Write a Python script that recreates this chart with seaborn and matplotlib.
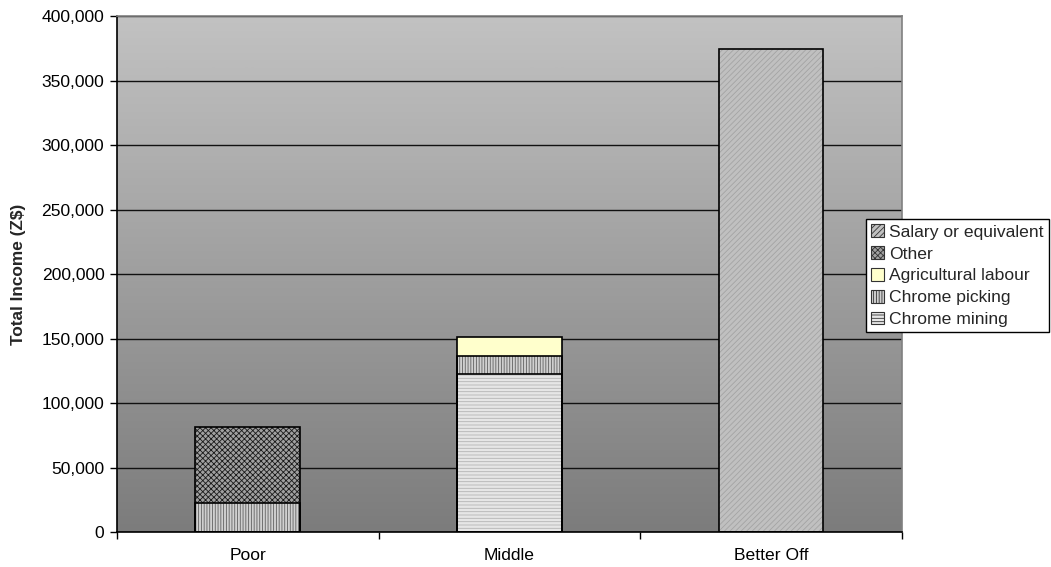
import numpy as np
import pandas as pd
import matplotlib
matplotlib.use("Agg")
import matplotlib.pyplot as plt
import seaborn as sns
from matplotlib.patches import Patch

categories = ["Poor", "Middle", "Better Off"]
chrome_mining = [0, 122600, 0]
chrome_picking = [22500, 14200, 0]
agricultural_labour = [0, 14500, 0]
other = [59000, 0, 0]
salary = [0, 0, 374600]

series_names = ["Chrome mining", "Chrome picking", "Agricultural labour", "Other", "Salary or equivalent"]
series_values = [chrome_mining, chrome_picking, agricultural_labour, other, salary]
yticks = [0, 50000, 100000, 150000, 200000, 250000, 300000, 350000, 400000]

styles = {
    "Chrome mining": dict(face="#e6e6e6", hatch="-----", hc="#b4b4b4"),
    "Chrome picking": dict(face="#d0d0d0", hatch="||||||", hc="#606060"),
    "Agricultural labour": dict(face="#ffffcc", hatch="", hc="#ffffcc"),
    "Other": dict(face="#a0a0a0", hatch="xxxxxx", hc="#1a1a1a"),
    "Salary or equivalent": dict(face="#c0c0c0", hatch="//////", hc="#a4a4a4"),
}

sns.set_theme(style="white")
plt.rcParams["font.family"] = ["Liberation Sans", "DejaVu Sans"]
plt.rcParams["hatch.linewidth"] = 0.6

fig = plt.figure(figsize=(10.51, 5.67), dpi=100)
ax = fig.add_axes([0.1113, 0.0612, 0.7467, 0.9106])

# gradient background
grad = np.linspace(0, 1, 256).reshape(-1, 1)
ax.imshow(grad, extent=[0, 1, 0, 1], transform=ax.transAxes, aspect="auto",
          cmap=matplotlib.colors.LinearSegmentedColormap.from_list("g", ["#c2c2c2", "#7c7c7c"]),
          origin="upper", zorder=0)

cum = np.cumsum(np.array(series_values, dtype=float), axis=0)
for i in range(len(series_names) - 1, -1, -1):
    name = series_names[i]
    st = styles[name]
    df = pd.DataFrame({"cat": categories, "val": cum[i]})
    # fill + hatch layer
    sns.barplot(data=df, x="cat", y="val", order=categories, width=0.4, ax=ax,
                color=st["face"], saturation=1, hatch=st["hatch"],
                edgecolor=st["hc"], linewidth=0, zorder=3)
    # outline layer (only for segments with value)
    vals = np.array(series_values[i], dtype=float)
    df2 = pd.DataFrame({"cat": categories, "val": np.where(vals > 0, cum[i], 0)})
    sns.barplot(data=df2, x="cat", y="val", order=categories, width=0.4, ax=ax,
                fill=False, edgecolor="black", linewidth=1.2, zorder=4)

for p in ax.patches:
    p.set_alpha(1)

ax.set_xlim(-0.5, 2.5)
ax.set_ylim(0, 400000)
ax.set_yticks(yticks)
ax.set_yticklabels([f"{v:,}" for v in yticks], fontsize=12.6, color="black")
ax.set_xticks(range(len(categories)))
ax.set_xticklabels(categories, fontsize=12.6, color="black")
ax.set_xticks([-0.5, 0.5, 1.5, 2.5], minor=True)
ax.tick_params(axis="x", which="major", length=0, pad=11)
ax.tick_params(axis="x", which="minor", length=5, width=1, color="black", direction="out", bottom=True)
ax.tick_params(axis="y", which="major", length=5, width=1, color="black", direction="out", left=True, pad=4)
ax.set_xlabel("")
ax.set_ylabel("Total Income (Z$)", fontsize=12.4, fontweight="bold", labelpad=11)

ax.yaxis.grid(True, color="#111111", linewidth=1.0, zorder=1)
ax.set_axisbelow(True)
for g in ax.get_ygridlines():
    g.set_zorder(1)

ax.spines["left"].set_color("black")
ax.spines["bottom"].set_color("black")
ax.spines["left"].set_linewidth(1.2)
ax.spines["bottom"].set_linewidth(1.2)
ax.spines["top"].set_color("#808080")
ax.spines["right"].set_color("#808080")
ax.spines["top"].set_linewidth(1.2)
ax.spines["right"].set_linewidth(1.2)

handles = []
for name in reversed(series_names):
    st = styles[name]
    handles.append(Patch(facecolor=st["face"], edgecolor="#333333", hatch=st["hatch"], linewidth=0.8))
leg = fig.legend(handles, list(reversed(series_names)), loc="upper left",
                 bbox_to_anchor=(866 / 1051, 1 - 219 / 567), fontsize=12.6,
                 frameon=True, fancybox=False, framealpha=1, edgecolor="black",
                 handlelength=0.75, handleheight=0.75, handletextpad=0.25,
                 borderpad=0.3, labelspacing=0.36, borderaxespad=0)
leg.get_frame().set_linewidth(1.0)

fig.savefig("out.png", dpi=100)
